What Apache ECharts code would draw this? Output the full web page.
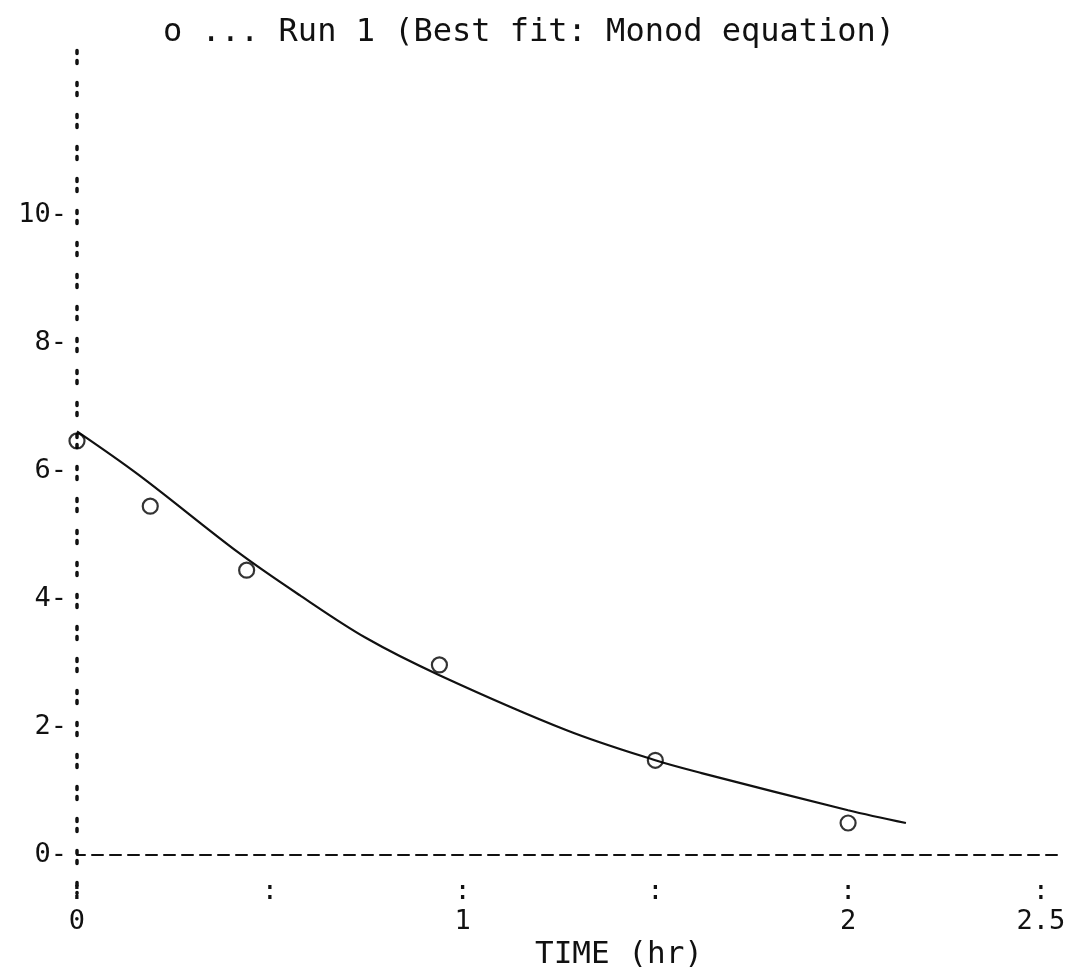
<!DOCTYPE html>
<html>
<head>
<meta charset="utf-8">
<title>Run 1 - Monod fit</title>
<script src="https://cdn.jsdelivr.net/npm/echarts@6/dist/echarts.min.js"></script>
<style>
  html, body { margin: 0; padding: 0; background: #fff; }
  #chart { width: 1074px; height: 968px; }
</style>
</head>
<body>
<div id="chart"></div>
<script>
// measured points (run 1)
const obsTime = [0, 0.19, 0.44, 0.94, 1.5, 2.0];
const obsConc = [6.47, 5.45, 4.45, 2.97, 1.48, 0.5];

// best fit curve (Monod equation)
const fitTime = [0, 0.16, 0.42, 0.58, 0.75, 0.94, 1.27, 1.5, 1.62, 2.0, 2.15];
const fitConc = [6.62, 5.94, 4.72, 4.05, 3.39, 2.81, 1.95, 1.48, 1.28, 0.7, 0.5];

// axis labels
const xLabels = [0, 1, 2, 2.5];
const xColons = [0, 0.5, 1, 1.5, 2, 2.5];
const yLabels = [0, 2, 4, 6, 8, 10];

const FONT = "DejaVu Sans Mono";
const INK = "#111";

const near = (v, list) => list.some((t) => Math.abs(v - t) < 1e-6);

const chart = echarts.init(document.getElementById("chart"));

chart.setOption({
  animation: false,
  backgroundColor: "#fff",
  title: [
    {
      text: "o ... Run 1 (Best fit: Monod equation)",
      left: 158,
      top: 12,
      textStyle: { fontFamily: FONT, fontSize: 32, fontWeight: "normal", color: INK },
    },
    {
      text: "TIME (hr)",
      left: 614,
      top: 934,
      textAlign: "center",
      textStyle: { fontFamily: FONT, fontSize: 31, fontWeight: "normal", color: INK },
    },
  ],
  grid: {
    left: 77,
    right: 10,
    top: 48.6,
    bottom: 74.6,
    containLabel: false,
    outerBoundsMode: "none",
  },
  xAxis: {
    type: "value",
    min: 0,
    max: 2.56,
    interval: 0.5,
    splitLine: { show: false },
    axisTick: { show: false },
    axisLine: {
      show: true,
      onZero: true,
      lineStyle: { color: INK, width: 2, type: [11, 7], dashOffset: 3 },
    },
    axisLabel: {
      margin: -16,
      showMaxLabel: false,
      formatter: (v) => {
        if (!near(v, xColons)) return "";
        if (near(v, xLabels)) return "{c|:}\n{n|" + v + "}";
        return "{c|:}";
      },
      rich: {
        c: { fontFamily: FONT, fontSize: 27, lineHeight: 30, color: INK },
        n: { fontFamily: FONT, fontSize: 27, lineHeight: 30, color: INK },
      },
    },
  },
  yAxis: {
    type: "value",
    min: -0.6,
    max: 12.6,
    interval: 0.2,
    splitLine: { show: false },
    axisTick: { show: false },
    axisLine: {
      show: true,
      onZero: true,
      lineStyle: { color: INK, width: 3.5, type: [3, 7, 3, 19], dashOffset: 2.1 },
    },
    axisLabel: {
      margin: 10,
      fontFamily: FONT,
      fontSize: 27,
      color: INK,
      showMinLabel: false,
      showMaxLabel: false,
      formatter: (v) => (near(v, yLabels) ? Math.round(v) + "-" : ""),
    },
  },
  series: [
    {
      name: "Monod fit",
      type: "line",
      data: fitTime.map((t, i) => [t, fitConc[i]]),
      smooth: 0.35,
      showSymbol: false,
      lineStyle: { color: INK, width: 2.2 },
      z: 2,
    },
    {
      name: "Run 1",
      type: "scatter",
      data: obsTime.map((t, i) => [t, obsConc[i]]),
      symbol: "circle",
      symbolSize: 15,
      itemStyle: { color: "rgba(0,0,0,0)", borderColor: "#000", borderWidth: 2.2 },
      z: 3,
    },
  ],
});
</script>
</body>
</html>
